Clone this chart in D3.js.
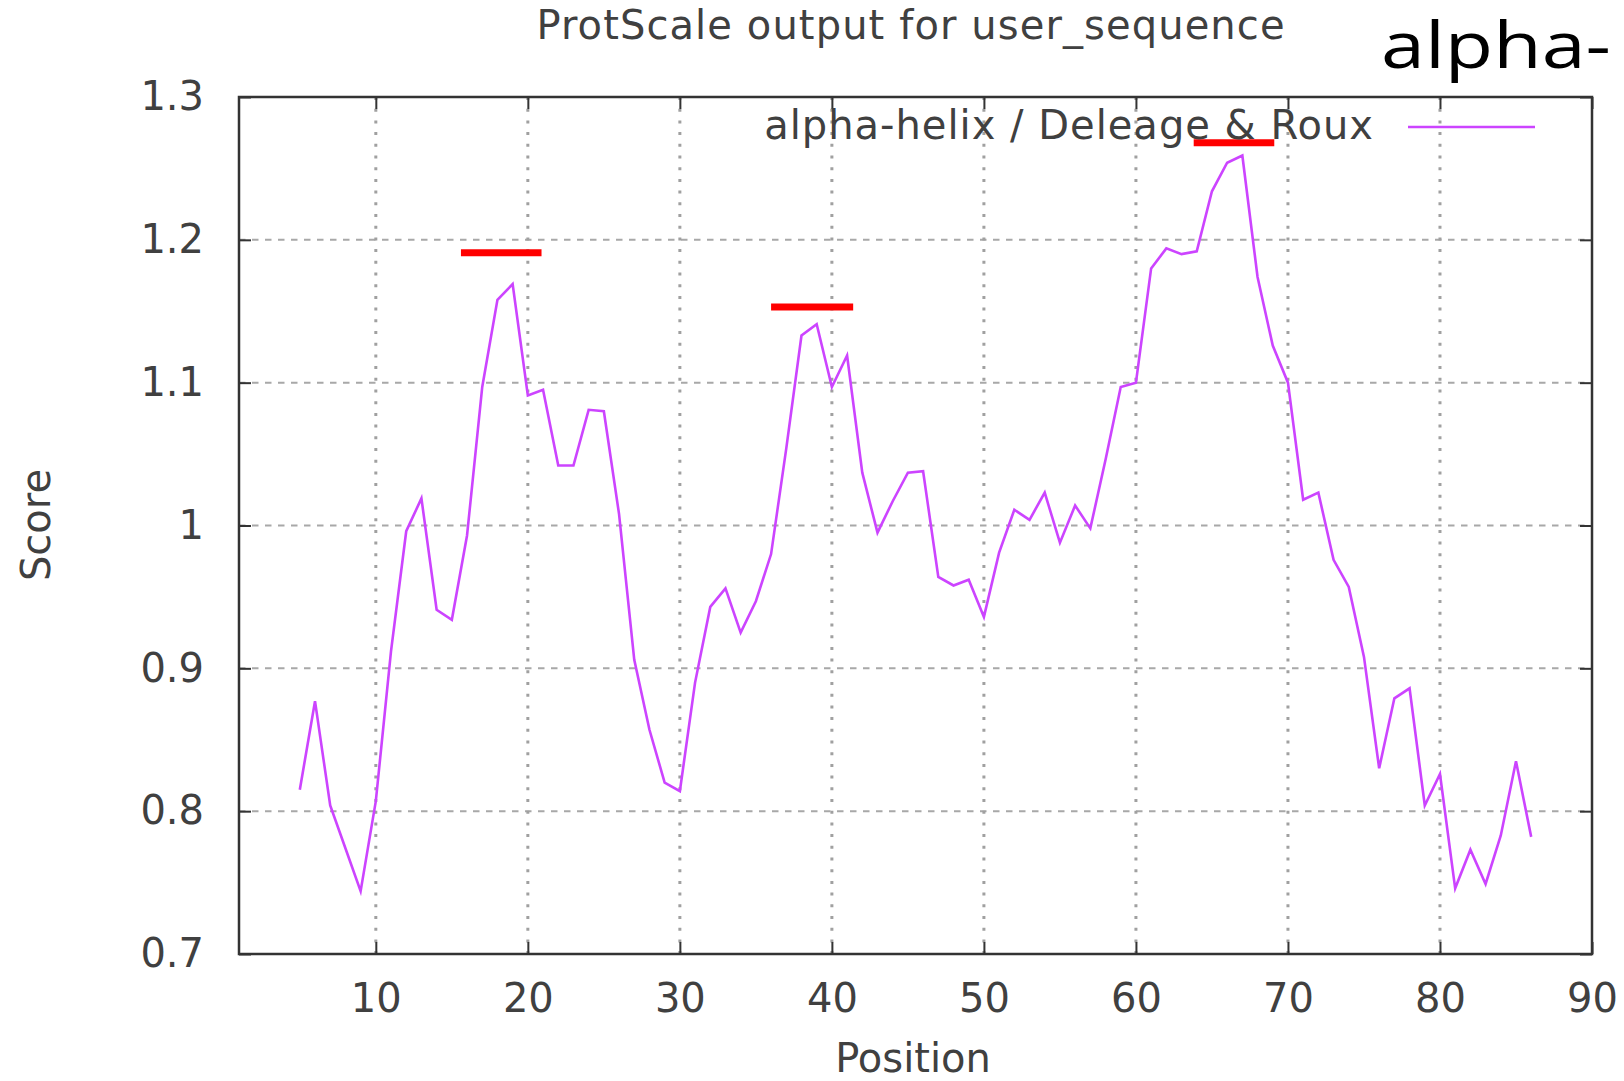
<!DOCTYPE html>
<html>
<head>
<meta charset="utf-8">
<title>ProtScale output</title>
<script src="https://cdn.jsdelivr.net/npm/d3@7"></script>
<style>
    body { margin: 0; background: #fff; }
    svg text { font-family: "DejaVu Sans", sans-serif; fill: #404040; }
</style>
</head>
<body>
<div id="chart-container"></div>
<script>
console.log('protscale chart loaded');

// Residue positions (window centre) and scores
const positions = [
    5, 6, 7, 8, 9, 10, 11, 12, 13, 14, 15, 16, 17, 18, 19, 20,
    21, 22, 23, 24, 25, 26, 27, 28, 29, 30, 31, 32, 33, 34, 35, 36,
    37, 38, 39, 40, 41, 42, 43, 44, 45, 46, 47, 48, 49, 50, 51, 52,
    53, 54, 55, 56, 57, 58, 59, 60, 61, 62, 63, 64, 65, 66, 67, 68,
    69, 70, 71, 72, 73, 74, 75, 76, 77, 78, 79, 80, 81, 82, 83, 84,
    85, 86
];
const scores = [
    0.815, 0.877, 0.804, 0.774, 0.744, 0.807, 0.912, 0.996, 1.019, 0.941, 0.934, 0.993, 1.097, 1.158, 1.169, 1.091,
    1.095, 1.042, 1.042, 1.081, 1.080, 1.008, 0.906, 0.857, 0.820, 0.814, 0.890, 0.943, 0.956, 0.925, 0.947, 0.980,
    1.054, 1.133, 1.141, 1.097, 1.119, 1.037, 0.995, 1.017, 1.037, 1.038, 0.964, 0.958, 0.962, 0.936, 0.981, 1.011,
    1.004, 1.023, 0.988, 1.014, 0.998, 1.046, 1.097, 1.100, 1.180, 1.194, 1.190, 1.192, 1.234, 1.254, 1.259, 1.174,
    1.126, 1.100, 1.018, 1.023, 0.976, 0.957, 0.908, 0.830, 0.879, 0.886, 0.804, 0.826, 0.746, 0.773, 0.749, 0.783,
    0.835, 0.782
];

// Red marker bars drawn over the peaks: start, end (position), score level
const markStart = [15.6, 36.0, 63.8];
const markEnd = [20.9, 41.4, 69.1];
const markLevel = [1.191, 1.153, 1.268];

// Axis ticks
const xTicks = [10, 20, 30, 40, 50, 60, 70, 80, 90];
const yTicks = [0.7, 0.8, 0.9, 1.0, 1.1, 1.2, 1.3];
const yTickLabels = ["0.7", "0.8", "0.9", "1", "1.1", "1.2", "1.3"];

const titleText = "ProtScale output for user_sequence";
const legendText = "alpha-helix / Deleage & Roux";
const cornerText = "alpha-";

function initChart() {
    const width = 1624, height = 1081;
    const plot = { left: 239, right: 1592, top: 97, bottom: 954 };

    const svg = d3.select("#chart-container")
        .append("svg")
        .attr("width", width)
        .attr("height", height);

    const x = d3.scaleLinear().domain([1, 90]).range([plot.left, plot.right]);
    const y = d3.scaleLinear().domain([0.7, 1.3]).range([plot.bottom, plot.top]);

    // Grid: dashed horizontals, dotted verticals (gnuplot style)
    svg.append("g")
        .selectAll("line")
        .data(yTicks.filter(d => d > 0.7 && d < 1.3))
        .enter().append("line")
        .attr("x1", plot.left).attr("x2", plot.right)
        .attr("y1", d => y(d)).attr("y2", d => y(d))
        .attr("stroke", "#a8a8a8")
        .attr("stroke-width", 2)
        .attr("stroke-dasharray", "6.5,6.5");

    svg.append("g")
        .selectAll("line")
        .data(xTicks.filter(d => d < 90))
        .enter().append("line")
        .attr("x1", d => x(d)).attr("x2", d => x(d))
        .attr("y1", plot.top).attr("y2", plot.bottom)
        .attr("stroke", "#a0a0a0")
        .attr("stroke-width", 3)
        .attr("stroke-dasharray", "3,8.7");

    // Axes with inward ticks on all four sides
    const tickLen = 12;
    const bottomAxis = d3.axisBottom(x).tickValues(xTicks).tickSize(-tickLen).tickPadding(30);
    const topAxis = d3.axisTop(x).tickValues(xTicks).tickSize(-tickLen).tickFormat("");
    const leftAxis = d3.axisLeft(y).tickValues(yTicks).tickSize(-tickLen).tickPadding(35)
        .tickFormat((d, i) => yTickLabels[i]);
    const rightAxis = d3.axisRight(y).tickValues(yTicks).tickSize(-tickLen).tickFormat("");

    const gx = svg.append("g").attr("transform", `translate(0,${plot.bottom})`).call(bottomAxis);
    svg.append("g").attr("transform", `translate(0,${plot.top})`).call(topAxis);
    svg.append("g").attr("transform", `translate(${plot.left},0)`).call(leftAxis);
    svg.append("g").attr("transform", `translate(${plot.right},0)`).call(rightAxis);

    svg.selectAll(".domain").remove();
    svg.selectAll(".tick line").attr("stroke", "#333").attr("stroke-width", 2);
    svg.selectAll(".tick text")
        .style("font-family", '"DejaVu Sans", sans-serif')
        .style("font-size", "40px")
        .attr("fill", "#404040");
    gx.selectAll(".tick text").attr("dy", "0.71em");

    // Frame
    svg.append("rect")
        .attr("x", plot.left).attr("y", plot.top)
        .attr("width", plot.right - plot.left)
        .attr("height", plot.bottom - plot.top)
        .attr("fill", "none")
        .attr("stroke", "#333")
        .attr("stroke-width", 2.5);

    // The profile line
    const line = d3.line()
        .x((d, i) => x(positions[i]))
        .y(d => y(d));

    svg.append("path")
        .datum(scores)
        .attr("d", line)
        .attr("fill", "none")
        .attr("stroke", "#cc44ff")
        .attr("stroke-width", 2.6)
        .attr("stroke-linejoin", "miter");

    // Red bars over the peaks
    svg.append("g")
        .selectAll("line")
        .data(markLevel)
        .enter().append("line")
        .attr("x1", (d, i) => x(markStart[i]))
        .attr("x2", (d, i) => x(markEnd[i]))
        .attr("y1", d => y(d)).attr("y2", d => y(d))
        .attr("stroke", "#ff0000")
        .attr("stroke-width", 7);

    // Legend
    svg.append("text")
        .attr("x", 1374).attr("y", 139)
        .attr("text-anchor", "end")
        .style("font-size", "40px")
        .style("letter-spacing", "1px")
        .text(legendText);
    svg.append("line")
        .attr("x1", 1408).attr("x2", 1535)
        .attr("y1", 127).attr("y2", 127)
        .attr("stroke", "#cc44ff")
        .attr("stroke-width", 2.6);

    // Title and axis labels
    svg.append("text")
        .attr("x", 911).attr("y", 39)
        .attr("text-anchor", "middle")
        .style("font-size", "40px")
        .style("letter-spacing", "1.1px")
        .text(titleText);

    svg.append("text")
        .attr("x", 913).attr("y", 1072)
        .attr("text-anchor", "middle")
        .style("font-size", "40px")
        .text("Position");

    svg.append("text")
        .attr("transform", "translate(50,525) rotate(-90)")
        .attr("text-anchor", "middle")
        .style("font-size", "40px")
        .text("Score");

    // Slide heading at the top right
    svg.append("text")
        .attr("x", 1381).attr("y", 68)
        .attr("textLength", 230)
        .attr("lengthAdjust", "spacingAndGlyphs")
        .style("font-family", '"Open Sans", sans-serif')
        .style("font-size", "64px")
        .style("fill", "#000")
        .text(cornerText);
}

initChart();
</script>
</body>
</html>
